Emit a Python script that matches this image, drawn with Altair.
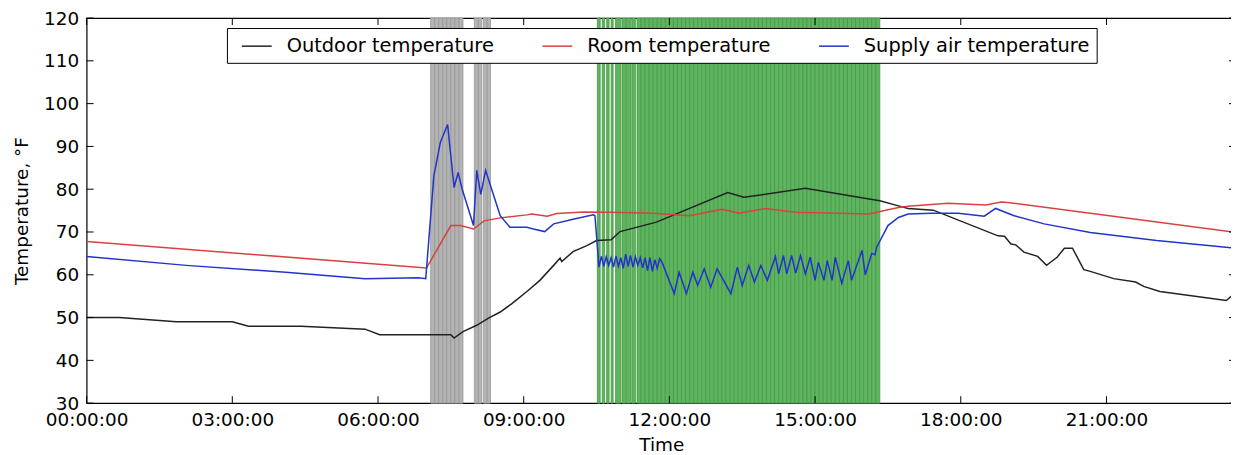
import altair as alt
import pandas as pd

# ---- data (time in minutes after midnight, temperatures in °F) ----
out_t = [0, 40, 111, 180, 200, 265, 344, 362, 450, 454, 465, 482, 496, 511, 525, 544, 560, 577, 585, 587,
         601, 618, 630, 648, 659, 704, 792, 812, 888, 954, 980, 1003, 1015, 1046, 1126, 1134, 1142, 1148,
         1158, 1175, 1186, 1199, 1208, 1218, 1232, 1240, 1269, 1296, 1306, 1326, 1408, 1416, 1420]
out_v = [50, 50, 49, 49, 48, 48, 47.3, 46, 46, 45.2, 46.7, 48.2, 49.8, 51.3, 53.2, 56.1, 58.7, 62.2, 63.9, 63.1,
         65.4, 66.8, 68, 68.2, 70.1, 72.3, 79.2, 78.1, 80.2, 78.1, 77.3, 76.1, 75.5, 75.1, 69.1, 69, 67.2, 67,
         65.3, 64.3, 62.2, 64.1, 66.2, 66.2, 61.2, 60.8, 59.1, 58.3, 57.3, 56.1, 54.0, 55.3, 54.8]

room_t = [0, 210, 420, 450, 462, 478, 491, 511, 544, 550, 569, 581, 614, 646, 700, 745, 785, 806, 839, 876,
          966, 1003, 1015, 1064, 1111, 1130, 1138, 1280, 1420]
room_v = [67.8, 64.7, 61.6, 71.5, 71.5, 70.7, 72.6, 73.3, 74.0, 74.2, 73.7, 74.3, 74.7, 74.6, 74.4, 73.8, 75.3,
          74.4, 75.5, 74.6, 74.2, 75.7, 76.0, 76.7, 76.3, 77.0, 76.9, 73.4, 69.9]

sup_t = [0, 123, 246, 344, 410, 419, 429, 437, 446, 450, 454, 459, 464, 478, 482, 487, 493, 499, 511, 523,
         544, 552, 566, 577, 601, 626, 628, 633, 636, 639, 642, 645, 648, 651, 654, 657, 660, 663, 666, 669,
         672, 675, 678, 681, 684, 687, 690, 693, 696, 699, 702, 705, 708, 711, 726, 732, 741, 749, 755, 763,
         771, 779, 796, 804, 810, 818, 825, 833, 841, 851, 855, 861, 865, 871, 876, 882, 888, 894, 900, 904,
         911, 915, 921, 925, 933, 941, 945, 958, 962, 970, 974, 976, 990, 1003, 1015, 1044, 1077, 1109, 1123,
         1146, 1183, 1240, 1322, 1420]
sup_v = [64.3, 62.2, 60.6, 59.1, 59.3, 59.1, 83.1, 90.9, 95.1, 87.7, 80.4, 83.9, 80.0, 71.5, 84.4, 78.8, 84.4,
         80.8, 73.8, 71.1, 71.1, 70.7, 70.1, 71.9, 73.0, 74.0, 73.8, 61.8, 64.3, 62.0, 64.2, 62.2, 64.0, 61.8,
         64.4, 62.0, 64.0, 61.5, 64.8, 62.0, 64.5, 61.8, 64.2, 62.2, 64.0, 61.6, 64.0, 61.0, 64.0, 60.8, 63.5,
         61.5, 63.8, 62.9, 55.6, 60.6, 55.6, 60.6, 57.5, 61.4, 57.1, 61.4, 55.6, 61.8, 57.5, 62.2, 58.3, 62.2,
         58.7, 64.3, 60.2, 64.5, 60.2, 64.5, 60.4, 64.5, 60.2, 64.1, 58.7, 62.9, 58.7, 63.3, 58.7, 64.1, 58.0,
         63.3, 58.7, 65.7, 60.0, 65.0, 64.7, 66.4, 71.5, 73.4, 74.2, 74.4, 74.4, 73.7, 75.5, 73.8, 71.9, 69.9,
         68.0, 66.2]

series_names = ["Outdoor temperature", "Room temperature", "Supply air temperature"]
series_colors = ["#222222", "#d94141", "#2233cc"]

# shaded periods (start, end) in minutes
gray_start = [425, 430, 435, 440, 445, 450, 455, 460, 479, 484, 490, 495]
gray_end = [430, 435, 440, 445, 450, 455, 460, 465, 484, 488, 495, 499]
green_start = [631, 637, 642.5, 648, 653.5, 661.5, 667, 673.5,
               680, 685, 690, 695, 700, 705, 710, 715, 720, 725, 730, 735, 740, 745, 750, 755, 760, 765,
               770, 775, 780, 785, 790, 795, 800, 805, 810, 815, 820, 825, 830, 835, 840, 845, 850, 855,
               860, 865, 870, 875, 880, 885, 890, 895, 900, 905, 910, 915, 920, 925, 930, 935, 940, 945,
               950, 955, 960, 965, 970, 975]
green_end = [634.5, 640, 645.5, 650.5, 660, 666, 672, 678,
             685, 690, 695, 700, 705, 710, 715, 720, 725, 730, 735, 740, 745, 750, 755, 760, 765, 770,
             775, 780, 785, 790, 795, 800, 805, 810, 815, 820, 825, 830, 835, 840, 845, 850, 855, 860,
             865, 870, 875, 880, 885, 890, 895, 900, 905, 910, 915, 920, 925, 930, 935, 940, 945, 950,
             955, 960, 965, 970, 975, 980]

x_ticks = [0, 180, 360, 540, 720, 900, 1080, 1260]
y_ticks = [30, 40, 50, 60, 70, 80, 90, 100, 110, 120]

# ---- build tables ----
rows = []
for name, ts, vs in zip(series_names, [out_t, room_t, sup_t], [out_v, room_v, sup_v]):
    for t, v in zip(ts, vs):
        rows.append({"t": t, "v": v, "series": name})
lines_df = pd.DataFrame(rows)
gray_df = pd.DataFrame({"t": gray_start, "e": gray_end})
green_df = pd.DataFrame({"t": green_start, "e": green_end})
xt_df = pd.DataFrame({"t": x_ticks})
yt_df = pd.DataFrame({"v": y_ticks})

W, H = 1155, 387
FONT = "DejaVu Sans"
xscale = alt.Scale(domain=[0, 1420], nice=False, zero=False)
yscale = alt.Scale(domain=[30, 120], nice=False, zero=False)
xaxis = alt.Axis(values=x_ticks, title="Time", grid=False, ticks=False, domain=False,
                 labelExpr="(datum.value < 600 ? '0' : '') + floor(datum.value / 60) + ':00:00'",
                 labelPadding=7, titlePadding=7, labelOverlap=False, labelFlush=False)
yaxis = alt.Axis(values=y_ticks, title="Temperature, °F", grid=False, ticks=False, domain=False,
                 labelPadding=8, titlePadding=12, labelOverlap=False)

X = alt.X("t:Q", scale=xscale, axis=xaxis)
Y = alt.Y("v:Q", scale=yscale, axis=yaxis)

gray = alt.Chart(gray_df).mark_rect(fill="#b3b3b3", stroke="#999999", strokeWidth=0.8).encode(
    x=X, x2="e:Q", y=alt.value(0), y2=alt.value(H))
green = alt.Chart(green_df).mark_rect(fill="#5fb55f", stroke="#479a47", strokeWidth=0.8).encode(
    x=X, x2="e:Q", y=alt.value(0), y2=alt.value(H))

lines = alt.Chart(lines_df).mark_line(strokeWidth=1.5).encode(
    x=X, y=Y,
    color=alt.Color("series:N", scale=alt.Scale(domain=series_names, range=series_colors),
                    legend=alt.Legend(title=None, orient="none", legendX=141, legendY=10,
                                      direction="horizontal", columns=3)),
    detail="series:N",
)

tl = alt.Chart(yt_df).mark_rule(color="black").encode(y=Y, x=alt.value(0), x2=alt.value(7))
tr = alt.Chart(yt_df).mark_rule(color="black").encode(y=Y, x=alt.value(W - 7), x2=alt.value(W))
tb = alt.Chart(xt_df).mark_rule(color="black").encode(x=X, y=alt.value(H - 7), y2=alt.value(H))
tt = alt.Chart(xt_df).mark_rule(color="black").encode(x=X, y=alt.value(0), y2=alt.value(7))

chart = alt.layer(gray, green, lines, tl, tr, tb, tt).properties(
    width=W, height=H, padding={"left": 4, "top": 0, "right": -8, "bottom": 0}
).configure_view(stroke="black", strokeWidth=1.2).configure_axis(
    labelFont=FONT, labelFontSize=18.5, labelColor="black",
    titleFont=FONT, titleFontSize=18.5, titleFontWeight="normal", titleColor="black"
).configure_legend(
    labelFont=FONT, labelFontSize=19.5, labelColor="black", symbolType="M-1.5,0H1.5", symbolSize=400,
    symbolStrokeWidth=1.5, labelOffset=19, columnPadding=40, padding=7, symbolOffset=12,
    fillColor="white", strokeColor="black", labelLimit=400
)

chart.save("out.html", embed_options={"renderer": "svg", "actions": False})
